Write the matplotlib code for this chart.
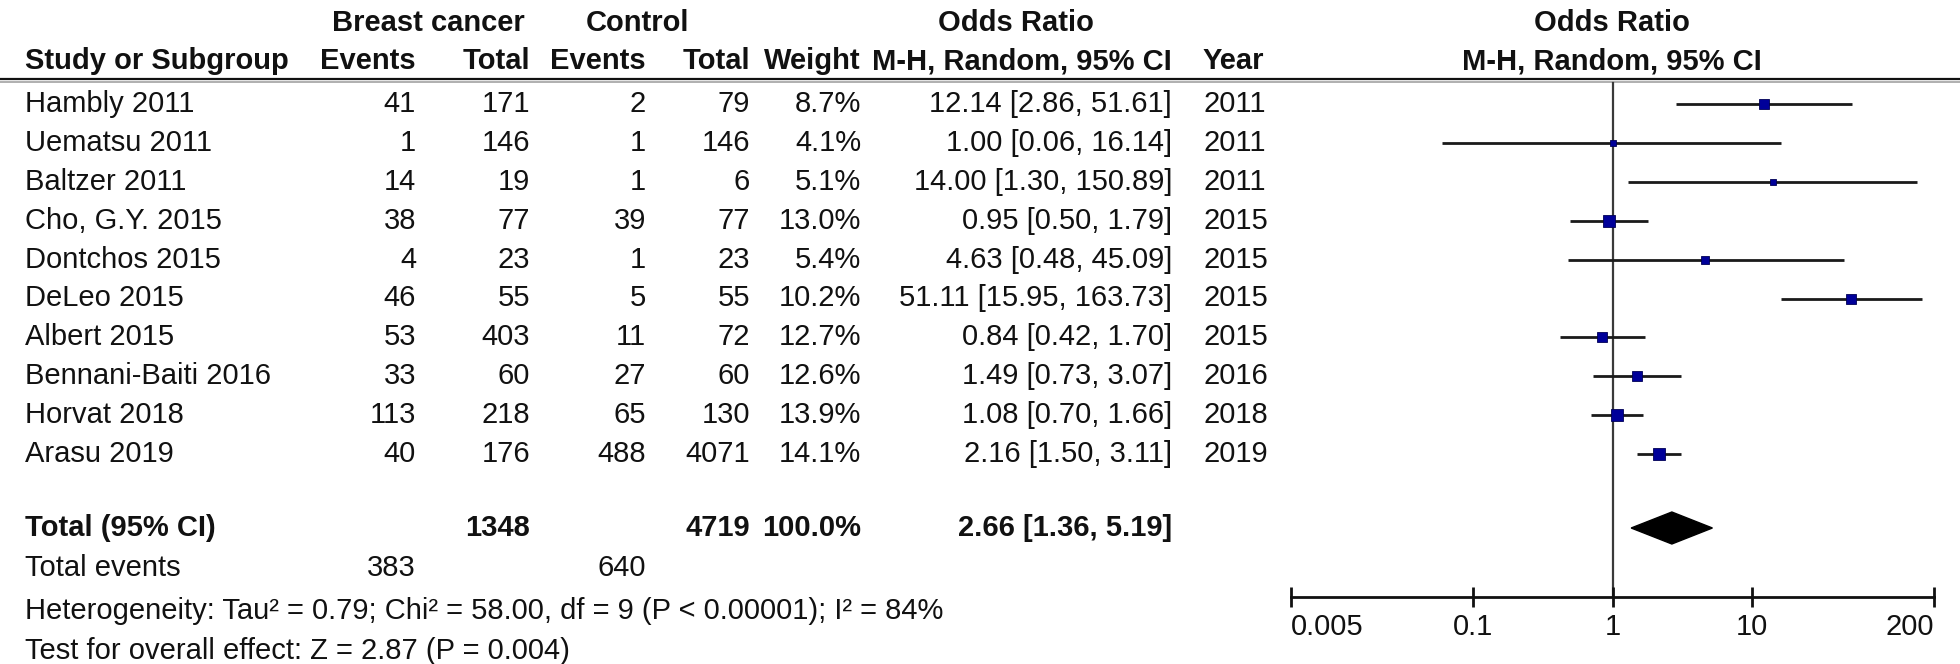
import matplotlib
matplotlib.use("Agg")
import matplotlib.pyplot as plt
import numpy as np

plt.rcParams['font.family'] = ['Liberation Sans', 'DejaVu Sans']

# ---- data ----
studies = ["Hambly 2011", "Uematsu 2011", "Baltzer 2011", "Cho, G.Y. 2015",
           "Dontchos 2015", "DeLeo 2015", "Albert 2015", "Bennani-Baiti 2016",
           "Horvat 2018", "Arasu 2019"]
bc_events = [41, 1, 14, 38, 4, 46, 53, 33, 113, 40]
bc_total = [171, 146, 19, 77, 23, 55, 403, 60, 218, 176]
ct_events = [2, 1, 1, 39, 1, 5, 11, 27, 65, 488]
ct_total = [79, 146, 6, 77, 23, 55, 72, 60, 130, 4071]
weights = [8.7, 4.1, 5.1, 13.0, 5.4, 10.2, 12.7, 12.6, 13.9, 14.1]
or_est = [12.14, 1.00, 14.00, 0.95, 4.63, 51.11, 0.84, 1.49, 1.08, 2.16]
ci_lo = [2.86, 0.06, 1.30, 0.50, 0.48, 15.95, 0.42, 0.73, 0.70, 1.50]
ci_hi = [51.61, 16.14, 150.89, 1.79, 45.09, 163.73, 1.70, 3.07, 1.66, 3.11]
years = [2011, 2011, 2011, 2015, 2015, 2015, 2015, 2016, 2018, 2019]

total_weight = 100.0
pooled = (2.66, 1.36, 5.19)
heterogeneity = "Heterogeneity: Tau\u00b2 = 0.79; Chi\u00b2 = 58.00, df = 9 (P < 0.00001); I\u00b2 = 84%"
overall = "Test for overall effect: Z = 2.87 (P = 0.004)"
tick_vals = [0.005, 0.1, 1, 10, 200]
tick_labels = ["0.005", "0.1", "1", "10", "200"]

# ---- layout (pixels, figure is 1960x664) ----
W, H = 1960, 664
FS = 21
row0, step = 104, 38.9
rows_y = [row0 + i * step for i in range(len(studies))]
y_total, y_events, y_het, y_test = 528, 568, 611, 651
y_head1, y_head2, y_line = 23, 61, 80
y_axis = 597

x_name = 25
x_bce, x_bct, x_cte, x_ctt = 416, 530, 646, 750
x_wt, x_ci, x_year = 861, 1172, 1203
plot_l, plot_r = 1291, 1934

fig = plt.figure(figsize=(W / 100, H / 100), dpi=100)
tab = fig.add_axes([0, 0, 1, 1])
tab.set_xlim(0, W)
tab.set_ylim(H, 0)
tab.axis('off')

def txt(x, y, s, ha='left', bold=False, size=FS):
    tab.text(x, y, s, ha=ha, va='center', fontsize=size,
             fontweight='bold' if bold else 'normal', color='#111111')

# header
txt(428, y_head1, "Breast cancer", 'center', True)
txt(637, y_head1, "Control", 'center', True)
txt(1016, y_head1, "Odds Ratio", 'center', True)
txt(1612, y_head1, "Odds Ratio", 'center', True)
txt(x_name, y_head2, "Study or Subgroup", bold=True)
txt(x_bce, y_head2, "Events", 'right', True)
txt(x_bct, y_head2, "Total", 'right', True)
txt(x_cte, y_head2, "Events", 'right', True)
txt(x_ctt, y_head2, "Total", 'right', True)
txt(x_wt, y_head2, "Weight", 'right', True)
txt(x_ci, y_head2, "M-H, Random, 95% CI", 'right', True)
txt(x_year, y_head2, "Year", bold=True)
txt(1612, y_head2, "M-H, Random, 95% CI", 'center', True)

tab.plot([0, W], [y_line - 1.5, y_line - 1.5], color='#111111', lw=1.6)
tab.plot([0, W], [y_line + 1.8, y_line + 1.8], color='#9a9a9a', lw=1.1)

# study rows
for i, y in enumerate(rows_y):
    txt(x_name, y, studies[i])
    txt(x_bce, y, str(bc_events[i]), 'right')
    txt(x_bct, y, str(bc_total[i]), 'right')
    txt(x_cte, y, str(ct_events[i]), 'right')
    txt(x_ctt, y, str(ct_total[i]), 'right')
    txt(x_wt, y, f"{weights[i]:.1f}%", 'right')
    txt(x_ci, y, f"{or_est[i]:.2f} [{ci_lo[i]:.2f}, {ci_hi[i]:.2f}]", 'right')
    txt(x_year, y, str(years[i]))

# totals
txt(x_name, y_total, "Total (95% CI)", bold=True)
txt(x_bct, y_total, str(sum(bc_total)), 'right', True)
txt(x_ctt, y_total, str(sum(ct_total)), 'right', True)
txt(x_wt, y_total, f"{total_weight:.1f}%", 'right', True)
txt(x_ci, y_total, f"{pooled[0]:.2f} [{pooled[1]:.2f}, {pooled[2]:.2f}]", 'right', True)
txt(x_name, y_events, "Total events")
txt(x_bce, y_events, str(sum(bc_events)), 'right')
txt(x_cte, y_events, str(sum(ct_events)), 'right')
txt(x_name, y_het, heterogeneity)
txt(x_name, y_test, overall)

# ---- forest panel ----
fp = fig.add_axes([plot_l / W, 0, (plot_r - plot_l) / W, 1])
fp.set_xscale('log')
fp.set_xlim(tick_vals[0], tick_vals[-1])
fp.set_ylim(H, 0)
fp.axis('off')

fp.plot([1, 1], [y_line + 3, y_axis], color='#3a3a3a', lw=1.6, zorder=1)

for i, y in enumerate(rows_y):
    fp.plot([ci_lo[i], ci_hi[i]], [y, y], color='#1a1a1a', lw=2.0, zorder=2,
            solid_capstyle='butt')
    fp.plot(or_est[i], y, marker='s', markersize=2.2 * np.sqrt(weights[i]),
            color='#000099', markeredgecolor='#000055', markeredgewidth=0.6,
            zorder=3)

est, lo, hi = pooled
fp.fill([lo, est, hi, est], [y_total, y_total - 16, y_total, y_total + 16],
        color='black', zorder=3)

# x axis drawn by hand, RevMan style: end labels sit inside the axis span
fp.plot([tick_vals[0], tick_vals[-1]], [y_axis, y_axis], color='#111111',
        lw=2.0, clip_on=False)
for k, (v, lab) in enumerate(zip(tick_vals, tick_labels)):
    fp.plot([v, v], [y_axis - 10, y_axis + 10], color='#111111', lw=2.0,
            clip_on=False, solid_capstyle='butt')
    ha = 'left' if k == 0 else ('right' if k == len(tick_vals) - 1 else 'center')
    fp.text(v, y_axis + 30, lab, ha=ha, va='center', fontsize=FS,
            color='#111111', clip_on=False)

fig.savefig("out.png", dpi=100)
